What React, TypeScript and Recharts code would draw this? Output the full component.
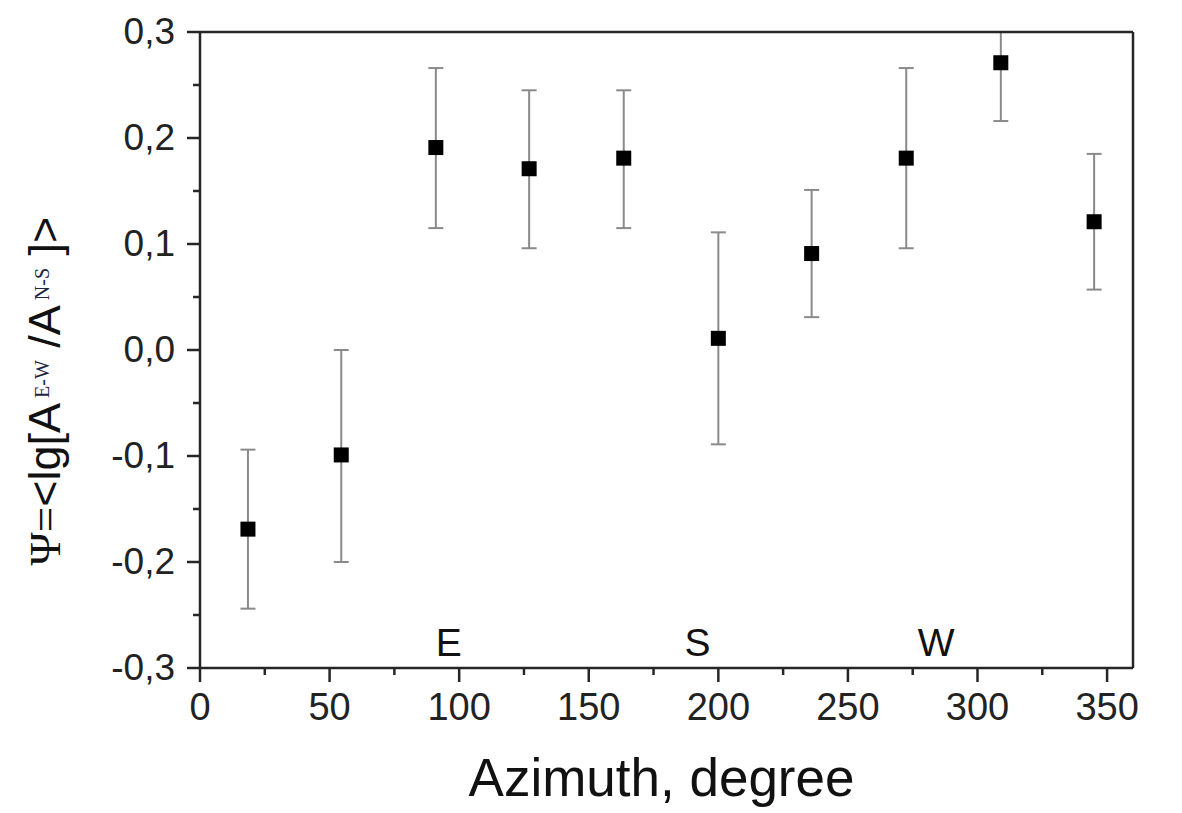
import React from 'react';
import {
  ScatterChart,
  Scatter,
  XAxis,
  YAxis,
  ErrorBar,
  ReferenceDot,
} from 'recharts';

// azimuth of each station group, degrees
const azimuth = [18.5, 54.5, 91, 127, 163.5, 200, 236, 272.5, 309, 345];
// mean psi value
const psi = [-0.169, -0.099, 0.191, 0.171, 0.181, 0.011, 0.091, 0.181, 0.271, 0.121];
// error below / above the mean (the 309° bar runs into the top frame)
const errLow = [0.075, 0.101, 0.076, 0.075, 0.066, 0.1, 0.06, 0.085, 0.055, 0.064];
const errHigh = [0.075, 0.099, 0.075, 0.074, 0.064, 0.1, 0.06, 0.085, 0.029, 0.064];

const xTicks = [0, 25, 50, 75, 100, 125, 150, 175, 200, 225, 250, 275, 300, 325, 350];
const yTicks = [-0.3, -0.25, -0.2, -0.15, -0.1, -0.05, 0, 0.05, 0.1, 0.15, 0.2, 0.25, 0.3];

const compassNames = ['E', 'S', 'W'];
const compassAz = [96, 192, 284];
const compassPsi = [-0.276, -0.276, -0.276];

const data = azimuth.map((az, i) => ({
  az,
  psi: psi[i],
  err: [errLow[i], errHigh[i]],
}));

const AXIS = '#262626';
const SANS = '"Liberation Sans", Arial, sans-serif';
const SERIF = '"Liberation Serif", "Times New Roman", serif';

const isMajorX = (v: number) => v % 50 === 0;
const isMajorY = (v: number) => Math.round(v * 20) % 2 === 0;
const fmtY = (v: number) => v.toFixed(1).replace('.', ',');

const BottomTick = ({ x, y, payload }: any) => {
  const major = isMajorX(payload.value);
  return (
    <g>
      <line x1={x} y1={y} x2={x} y2={y + (major ? 14 : 7)} stroke={AXIS} strokeWidth={2.5} />
      {major && (
        <text x={x} y={y + 52} textAnchor="middle" fontFamily={SANS} fontSize={38} fill="#222">
          {payload.value}
        </text>
      )}
    </g>
  );
};

const TopTick = ({ x, y, payload }: any) => {
  const major = isMajorX(payload.value);
  return <line x1={x} y1={y} x2={x} y2={y + (major ? 13 : 7)} stroke={AXIS} strokeWidth={2.5} />;
};

const LeftTick = ({ x, y, payload }: any) => {
  const major = isMajorY(payload.value);
  return (
    <g>
      <line x1={x} y1={y} x2={x - (major ? 13 : 7)} y2={y} stroke={AXIS} strokeWidth={2.5} />
      {major && (
        <text x={x - 25} y={y + 12} textAnchor="end" fontFamily={SANS} fontSize={37} fill="#222">
          {fmtY(payload.value)}
        </text>
      )}
    </g>
  );
};

const RightTick = ({ x, y, payload }: any) => {
  const major = isMajorY(payload.value);
  return <line x1={x} y1={y} x2={x - (major ? 13 : 7)} y2={y} stroke={AXIS} strokeWidth={2.5} />;
};

const SquareDot = ({ cx, cy }: any) => (
  <rect x={cx - 7.5} y={cy - 7.5} width={15} height={15} fill="#000" />
);

const YTitle = ({ viewBox }: any) => {
  const x = viewBox.x + 60;
  const y = viewBox.y + viewBox.height / 2 + 41;
  return (
    <text
      x={x}
      y={y}
      textAnchor="middle"
      transform={`rotate(-90, ${x}, ${y})`}
      fontFamily={SANS}
      fontSize={45}
      fill="#111"
    >
      <tspan fontFamily={SERIF}>Ψ=</tspan>
      <tspan>&lt;lg[A</tspan>
      <tspan fontFamily={SERIF} fontSize={20} dy={-11} fill="#1c2540">
        {' E-W'}
      </tspan>
      <tspan dy={11}>{' /A'}</tspan>
      <tspan fontFamily={SERIF} fontSize={20} dy={-11} fill="#1c2540">
        {' N-S'}
      </tspan>
      <tspan dy={11}>{' ]>'}</tspan>
    </text>
  );
};

const XTitle = ({ viewBox }: any) => (
  <text
    x={viewBox.x + viewBox.width / 2 - 5}
    y={viewBox.y + 128}
    textAnchor="middle"
    fontFamily={SANS}
    fontSize={53}
    fill="#111"
  >
    Azimuth, degree
  </text>
);

export default function App() {
  return (
    <div style={{ width: 1182, height: 813, background: '#fff', overflow: 'hidden' }}>
      <style>{'body{margin:0}'}</style>
      <ScatterChart
        width={1182}
        height={813}
        margin={{ top: 31, right: 48, bottom: 0, left: 0 }}
      >
        <Scatter
          xAxisId={0}
          yAxisId={0}
          data={data}
          shape={<SquareDot />}
          isAnimationActive={false}
        >
          <ErrorBar
            dataKey="err"
            direction="y"
            width={7.5}
            stroke="#8a8a8a"
            strokeWidth={2}
            isAnimationActive={false}
          />
        </Scatter>
        {compassNames.map((name, i) => (
          <ReferenceDot
            key={name}
            xAxisId={0}
            yAxisId={0}
            x={compassAz[i]}
            y={compassPsi[i]}
            r={0}
            stroke="none"
            fill="none"
            label={{
              value: name,
              position: 'center',
              fontFamily: SANS,
              fontSize: 39,
              fill: '#111',
            }}
          />
        ))}
        <XAxis
          xAxisId={0}
          type="number"
          dataKey="az"
          domain={[0, 360]}
          ticks={xTicks}
          interval={0}
          height={145}
          tickSize={0}
          tickMargin={0}
          tickLine={false}
          tick={<BottomTick />}
          axisLine={{ stroke: AXIS, strokeWidth: 2.5 }}
          label={{ content: <XTitle /> }}
        />
        <XAxis
          xAxisId="top"
          orientation="top"
          type="number"
          domain={[0, 360]}
          ticks={xTicks}
          interval={0}
          height={1}
          tickSize={0}
          tickMargin={0}
          tickLine={false}
          tick={<TopTick />}
          axisLine={{ stroke: AXIS, strokeWidth: 2.5 }}
        />
        <YAxis
          yAxisId={0}
          type="number"
          dataKey="psi"
          domain={[-0.3, 0.3]}
          allowDataOverflow
          ticks={yTicks}
          interval={0}
          width={200}
          tickSize={0}
          tickMargin={0}
          tickLine={false}
          tick={<LeftTick />}
          axisLine={{ stroke: AXIS, strokeWidth: 2.5 }}
          label={{ content: <YTitle /> }}
        />
        <YAxis
          yAxisId="right"
          orientation="right"
          type="number"
          domain={[-0.3, 0.3]}
          ticks={yTicks}
          interval={0}
          width={1}
          tickSize={0}
          tickMargin={0}
          tickLine={false}
          tick={<RightTick />}
          axisLine={{ stroke: AXIS, strokeWidth: 2.5 }}
        />
      </ScatterChart>
    </div>
  );
}
